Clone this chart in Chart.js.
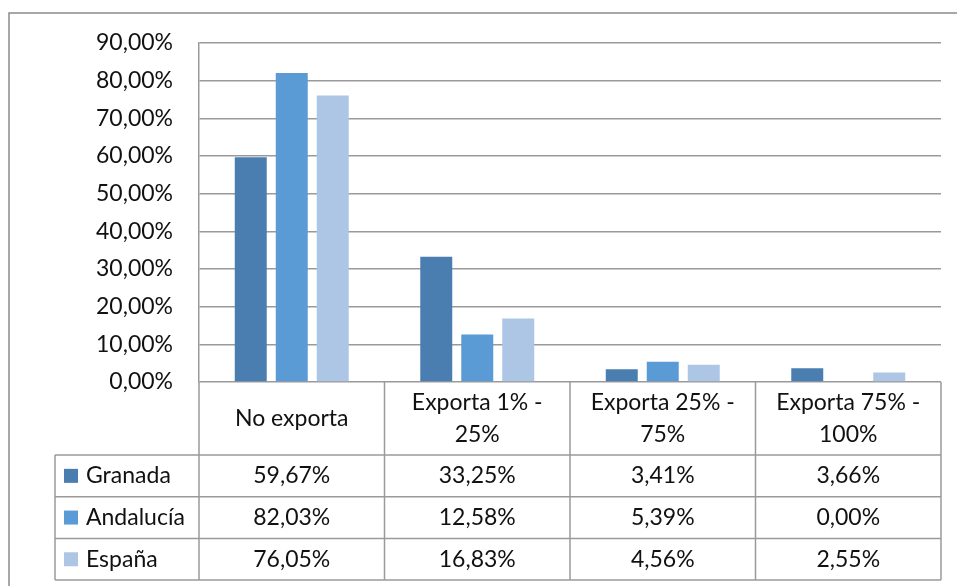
<!DOCTYPE html>
<html>
<head>
<meta charset="utf-8">
<script src="https://cdn.jsdelivr.net/npm/chart.js@4"></script>
<style>
  html, body { margin: 0; padding: 0; background: #fff; }
  #wrap { width: 957px; height: 586px; }
</style>
</head>
<body>
<div id="wrap"><canvas id="chart" width="957" height="586"></canvas></div>
<script>
// chart data
const categories = ['No exporta', 'Exporta 1% - 25%', 'Exporta 25% - 75%', 'Exporta 75% - 100%'];
const categoryLines = [['No exporta'], ['Exporta 1% -', '25%'], ['Exporta 25% -', '75%'], ['Exporta 75% -', '100%']];
const seriesNames = ['Granada', 'Andalucía', 'España'];
const granada = [59.67, 33.25, 3.41, 3.66];
const andalucia = [82.03, 12.58, 5.39, 0.00];
const espana = [76.05, 16.83, 4.56, 2.55];
const yTicks = [0, 10, 20, 30, 40, 50, 60, 70, 80, 90];

const colors = ['#4a7eb0', '#5b9bd5', '#adc6e5'];
const FONT = 'Lato, "Open Sans", sans-serif';
const LINE = '#9a9a9a';

const fmt = v => v.toFixed(2).replace('.', ',') + '%';

// outer frame + data table below the plot
const tablePlugin = {
  id: 'dataTable',
  beforeDraw(chart) {
    const ctx = chart.ctx;
    ctx.save();
    ctx.strokeStyle = '#8a8a8a';
    ctx.lineWidth = 1.5;
    ctx.beginPath();
    ctx.moveTo(9, 586);
    ctx.lineTo(9, 13);
    ctx.lineTo(957, 13);
    ctx.stroke();
    ctx.restore();
  },
  afterDraw(chart) {
    const ctx = chart.ctx;
    const area = chart.chartArea;
    const left = area.left, right = area.right, top = area.bottom;
    const colW = (right - left) / categories.length;
    const headerH = 73, rowH = 41.7;
    const legendLeft = 55;
    const bottom = top + headerH + rowH * seriesNames.length;

    ctx.save();
    ctx.strokeStyle = LINE;
    ctx.lineWidth = 1.5;
    ctx.beginPath();
    // column separators
    for (let i = 0; i <= categories.length; i++) {
      const x = left + i * colW;
      ctx.moveTo(x, top);
      ctx.lineTo(x, bottom);
    }
    // row lines
    for (let r = 0; r <= seriesNames.length; r++) {
      const y = top + headerH + r * rowH;
      ctx.moveTo(legendLeft, y);
      ctx.lineTo(right, y);
    }
    ctx.moveTo(legendLeft, top + headerH);
    ctx.lineTo(legendLeft, bottom);
    ctx.stroke();

    ctx.fillStyle = '#111';
    ctx.font = '23px ' + FONT;
    ctx.textAlign = 'center';
    ctx.textBaseline = 'middle';
    // header labels
    categoryLines.forEach((lines, i) => {
      const cx = chart.scales.x.getPixelForValue(i);
      const lh = 32;
      const y0 = top + headerH / 2 - (lines.length - 1) * lh / 2;
      lines.forEach((t, k) => ctx.fillText(t, cx, y0 + k * lh));
    });

    // data rows
    const all = [granada, andalucia, espana];
    seriesNames.forEach((name, r) => {
      const cy = top + headerH + r * rowH + rowH / 2;
      ctx.fillStyle = colors[r];
      ctx.fillRect(64, cy - 7, 14, 14);
      ctx.fillStyle = '#111';
      ctx.textAlign = 'left';
      ctx.fillText(name, 86, cy);
      ctx.textAlign = 'center';
      all[r].forEach((v, i) => {
        ctx.fillText(fmt(v), chart.scales.x.getPixelForValue(i), cy);
      });
    });
    ctx.restore();
  }
};

new Chart(document.getElementById('chart'), {
  type: 'bar',
  data: {
    labels: categories,
    datasets: [
      { label: seriesNames[0], data: granada, backgroundColor: colors[0] },
      { label: seriesNames[1], data: andalucia, backgroundColor: colors[1] },
      { label: seriesNames[2], data: espana, backgroundColor: colors[2] }
    ]
  },
  options: {
    responsive: false,
    animation: false,
    devicePixelRatio: 1,
    layout: { padding: { top: 43, bottom: 204, right: 16, left: 0 } },
    plugins: { legend: { display: false }, tooltip: { enabled: false } },
    datasets: { bar: { categoryPercentage: 0.663, barPercentage: 0.78 } },
    scales: {
      x: { display: false },
      y: {
        min: 0,
        max: 90,
        afterFit(scale) { scale.width = 199; },
        afterBuildTicks(scale) { scale.ticks = yTicks.map(v => ({ value: v })); },
        ticks: {
          padding: 26,
          color: '#111',
          font: { family: FONT, size: 23 },
          callback: v => fmt(v)
        },
        grid: { color: LINE, lineWidth: 1.5, drawTicks: false },
        border: { display: true, color: LINE, width: 1.5 }
      }
    }
  },
  plugins: [tablePlugin]
});
</script>
</body>
</html>
